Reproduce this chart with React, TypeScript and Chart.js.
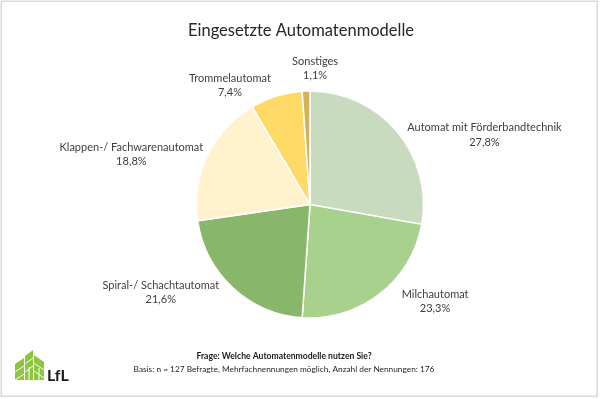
import React, { useEffect, useRef } from "react";
import { Chart, registerables } from "chart.js";

Chart.register(...registerables);

const categories = [
  "Automat mit Förderbandtechnik",
  "Milchautomat",
  "Spiral-/ Schachtautomat",
  "Klappen-/ Fachwarenautomat",
  "Trommelautomat",
  "Sonstiges",
];
const shares = [27.8, 23.3, 21.6, 18.8, 7.4, 1.1];
const valueLabels = ["27,8%", "23,3%", "21,6%", "18,8%", "7,4%", "1,1%"];
const sliceColors = ["#C8DBBF", "#A9D18E", "#88B76B", "#FFF2CC", "#FFD966", "#D4B25A"];

const titleText = "Eingesetzte Automatenmodelle";
const footerQuestion = "Frage: Welche Automatenmodelle nutzen Sie?";
const footerBasis = "Basis: n = 127 Befragte, Mehrfachnennungen möglich, Anzahl der Nennungen: 176";

// label layout: offsets from a radial anchor (outer radius + gap) for each slice label
const labelNudges: [number, number][] = [
  [66, 21],
  [38, -15],
  [-53, -16],
  [-51, 11],
  [-38, 16],
  [10, 5],
];

const FONT = "Lato, 'Noto Sans', 'Liberation Sans', sans-serif";

const decorPlugin = {
  id: "decor",
  afterDraw(chart: any) {
    const ctx = chart.ctx as CanvasRenderingContext2D;
    const W = chart.width;
    const H = chart.height;
    ctx.save();
    // outer frame
    ctx.strokeStyle = "#D9D9D9";
    ctx.lineWidth = 1.5;
    ctx.strokeRect(1.25, 1.25, W - 4, H - 4);

    // title
    ctx.fillStyle = "#262626";
    ctx.font = `16.5px ${FONT}`;
    ctx.textAlign = "center";
    ctx.textBaseline = "middle";
    ctx.fillText(titleText, 301, 31);

    // slice labels
    const meta = chart.getDatasetMeta(0);
    ctx.font = `11px ${FONT}`;
    ctx.fillStyle = "#404040";
    meta.data.forEach((arc: any, i: number) => {
      const p = arc.getProps(["x", "y", "startAngle", "endAngle", "outerRadius"], true);
      const mid = (p.startAngle + p.endAngle) / 2;
      const d = p.outerRadius + 28;
      const ax = p.x + Math.cos(mid) * d + labelNudges[i][0];
      const ay = p.y + Math.sin(mid) * d + labelNudges[i][1];
      ctx.fillText(categories[i], ax, ay - 7);
      ctx.fillText(valueLabels[i], ax, ay + 7.5);
    });

    // footer
    ctx.fillStyle = "#1a1a1a";
    ctx.font = `bold 8.6px ${FONT}`;
    ctx.fillText(footerQuestion, 284, 356);
    ctx.font = `8.3px ${FONT}`;
    ctx.fillStyle = "#262626";
    ctx.fillText(footerBasis, 284, 369);

    // logo
    const green = "#8CC63F";
    ctx.fillStyle = green;
    ctx.beginPath();
    ctx.moveTo(15, 364);
    ctx.lineTo(24, 358);
    ctx.lineTo(24, 380);
    ctx.lineTo(15, 380);
    ctx.closePath();
    ctx.fill();
    ctx.beginPath();
    ctx.moveTo(25, 356);
    ctx.lineTo(33, 350);
    ctx.lineTo(33, 380);
    ctx.lineTo(25, 380);
    ctx.closePath();
    ctx.fill();
    ctx.beginPath();
    ctx.moveTo(34, 355);
    ctx.lineTo(44, 362);
    ctx.lineTo(44, 380);
    ctx.lineTo(34, 380);
    ctx.closePath();
    ctx.fill();
    ctx.strokeStyle = "#ffffff";
    ctx.lineWidth = 1;
    ctx.beginPath();
    ctx.moveTo(15, 372);
    ctx.lineTo(24, 366);
    ctx.moveTo(24, 374);
    ctx.lineTo(15, 380);
    ctx.moveTo(25, 364);
    ctx.lineTo(33, 358);
    ctx.moveTo(25, 372);
    ctx.lineTo(33, 366);
    ctx.moveTo(34, 363);
    ctx.lineTo(44, 370);
    ctx.moveTo(34, 371);
    ctx.lineTo(44, 378);
    ctx.moveTo(29, 367);
    ctx.lineTo(29, 380);
    ctx.moveTo(39, 368);
    ctx.lineTo(39, 380);
    ctx.stroke();

    ctx.fillStyle = "#1a1a1a";
    ctx.font = `bold 16px ${FONT}`;
    ctx.textAlign = "left";
    ctx.textBaseline = "alphabetic";
    ctx.fillText("LfL", 47, 381);
    ctx.restore();
  },
};

export default function App() {
  const ref = useRef<HTMLCanvasElement | null>(null);
  useEffect(() => {
    if (!ref.current) return;
    const chart = new Chart(ref.current, {
      type: "pie",
      data: {
        labels: categories,
        datasets: [
          {
            data: shares,
            backgroundColor: sliceColors,
            borderColor: "#ffffff",
            borderWidth: 1.5,
            hoverOffset: 0,
          },
        ],
      },
      options: {
        responsive: false,
        animation: false,
        radius: 113.5,
        layout: { padding: { left: 160, right: 140, top: 54.5, bottom: 44.5 } },
        plugins: {
          legend: { display: false },
          tooltip: { enabled: false },
          title: { display: false },
        },
        events: [],
      } as any,
      plugins: [decorPlugin],
    });
    return () => chart.destroy();
  }, []);
  return (
    <div style={{ position: "fixed", left: 0, top: 0, width: 600, height: 399, background: "#fff" }}>
      <canvas ref={ref} width={600} height={399} style={{ width: 600, height: 399, display: "block" }} />
    </div>
  );
}
